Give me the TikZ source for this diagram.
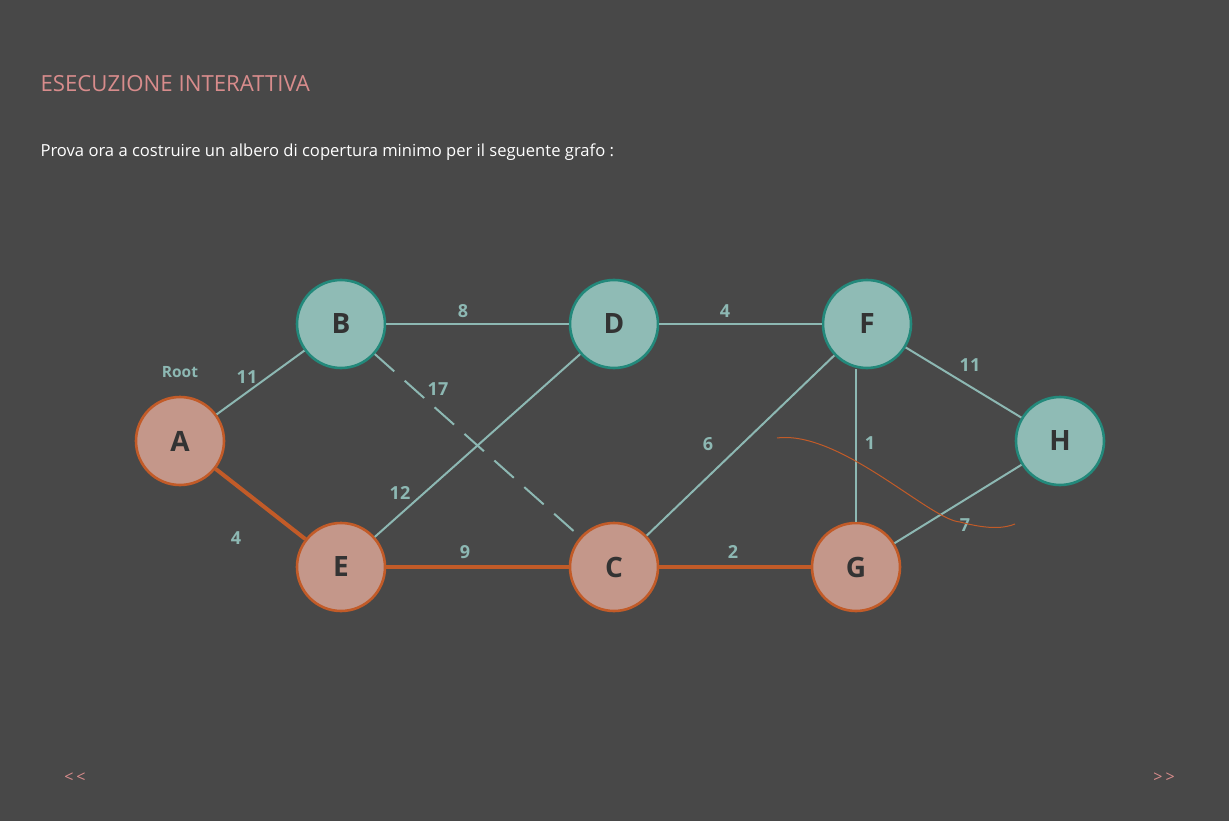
\documentclass[tikz,border=0pt]{standalone}
\usepackage{fontspec}
\setmainfont{Open Sans}
\usetikzlibrary{positioning}

\definecolor{slide}{HTML}{484848}
\definecolor{tealfill}{HTML}{8FBBB5}
\definecolor{tealdraw}{HTML}{23897B}
\definecolor{rustfill}{HTML}{C4978A}
\definecolor{rustdraw}{HTML}{C25B28}
\definecolor{edgeline}{HTML}{8DB8B3}
\definecolor{titlepink}{HTML}{D88C8C}
\definecolor{letter}{HTML}{333333}

\begin{document}
\begin{tikzpicture}[x=1pt,y=-1pt,
    vertex/.style={circle,minimum size=88pt,inner sep=0pt,line width=2.6pt,
      text=letter,font=\fontsize{28}{28}\selectfont\bfseries},
    free/.style={vertex,fill=tealfill,draw=tealdraw},
    taken/.style={vertex,fill=rustfill,draw=rustdraw},
    arc/.style={draw=edgeline,line width=2pt},
    tree/.style={draw=rustdraw,line width=4pt},
    weight/.style={text=edgeline,font=\fontsize{18}{18}\selectfont\bfseries,inner sep=1pt},
    navlink/.style={text=titlepink,font=\fontsize{16}{16}\selectfont}
  ]
  \fill[slide] (0,0) rectangle (1229,821);
  \useasboundingbox (0,0) rectangle (1229,821);

  \node[anchor=west,text=titlepink,font=\fontsize{22.2}{22.2}\selectfont] (title) at (37,84)
    {ESECUZIONE INTERATTIVA};
  \node[anchor=west,text=white,font=\fontsize{16.6}{16.6}\selectfont] (intro) at (37,152)
    {Prova ora a costruire un albero di copertura minimo per il seguente grafo :};

  \node[taken] (A) at (180,441) {A};
  \node[free]  (B) at (341,324) {B};
  \node[free]  (D) at (614,324) {D};
  \node[free]  (F) at (867,324) {F};
  \node[free]  (H) at (1060,441) {H};
  \node[taken] (E) at (341,567) {E};
  \node[taken] (C) at (614,567) {C};
  \node[taken] (G) at (856,567) {G};

  \node[weight,font=\fontsize{15.5}{15.5}\selectfont\bfseries] (root) at (180,372) {Root};

  \path[arc] (A) edge (B)
             (B) edge (D)
             (D) edge (F)
             (D) edge (E)
             (F) edge (C)
             (F) edge (H)
             (H) edge (G);
  \draw[arc] (G) -- (F.south -| G);
  \path[arc,dash pattern=on 26pt off 14pt] (B) edge (C);
  \path[tree] (A) edge (E)
              (E) edge (C)
              (C) edge (G);

  \node[weight] (wAB) at (247,377) {11};
  \node[weight] (wAE) at (236,538) {4};
  \node[weight] (wBD) at (463,311) {8};
  \node[weight] (wBC) at (438,389) {17};
  \node[weight] (wDF) at (725,311) {4};
  \node[weight] (wDE) at (400,493) {12};
  \node[weight] (wFC) at (708,444) {6};
  \node[weight] (wFG) at (870,443) {1};
  \node[weight] (wFH) at (970,365) {11};
  \node[weight] (wHG) at (965,525) {7};
  \node[weight] (wEC) at (465,552) {9};
  \node[weight] (wCG) at (733,552) {2};

  \coordinate (s0) at (777,438);
  \coordinate (s1) at (1015,524);
  \draw[rustdraw,line width=1pt] (s0) .. controls (840,430) and (930,520) .. (960,522)
    .. controls (990,530) and (1005,528) .. (s1);

  \node[navlink] (prev) at (75,778) {{<}\kern3pt{<}};
  \node[navlink] (next) at (1164,778) {{>}\kern3pt{>}};
\end{tikzpicture}
\end{document}
